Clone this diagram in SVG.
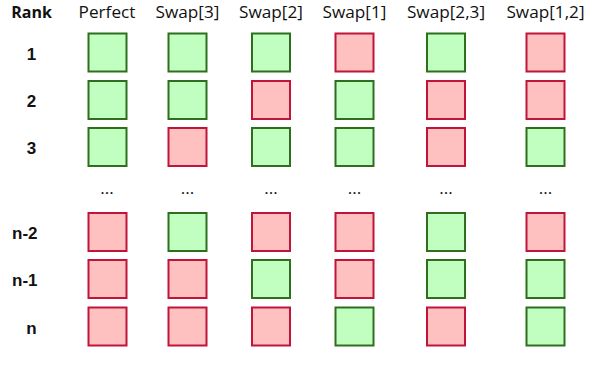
<svg xmlns="http://www.w3.org/2000/svg" width="612" height="380" viewBox="0 0 612 380">
<style>
.hd{font-family:"Open Sans","Liberation Sans",sans-serif;font-size:17.2px;fill:#111;text-anchor:middle}
.rk{font-family:"Open Sans","Liberation Sans",sans-serif;font-size:16px;font-weight:bold;fill:#111;text-anchor:middle}
.rl{font-family:"Liberation Sans",Arial,sans-serif;font-size:17px;font-weight:bold;fill:#111}
.dt{font-family:"Open Sans","Liberation Sans",sans-serif;font-size:17px;fill:#111;text-anchor:middle}
.g{fill:#c0ffc0;stroke:#2f6e1e;stroke-width:2}
.r{fill:#ffc0c0;stroke:#c0143a;stroke-width:2}
</style>
<g id="headers">
<text class="rk" x="31.5" y="18">Rank</text>
<text class="hd" x="107" y="18">Perfect</text>
<text class="hd" x="187.5" y="18">Swap[3]</text>
<text class="hd" x="271" y="18">Swap[2]</text>
<text class="hd" x="354.5" y="18">Swap[1]</text>
<text class="hd" x="446" y="18">Swap[2,3]</text>
<text class="hd" x="545.5" y="18">Swap[1,2]</text>
</g>
<g id="row-labels">
<text class="rl" x="31.5" y="59.5" text-anchor="middle">1</text>
<text class="rl" x="31.5" y="107" text-anchor="middle">2</text>
<text class="rl" x="31.5" y="154" text-anchor="middle">3</text>
<text class="rl" x="12" y="239">n-2</text>
<text class="rl" x="12" y="286">n-1</text>
<text class="rl" x="31.5" y="333.5" text-anchor="middle">n</text>
</g>
<g id="ellipses">
<text class="dt" x="107" y="194">...</text>
<text class="dt" x="187.5" y="194">...</text>
<text class="dt" x="271" y="194">...</text>
<text class="dt" x="354.5" y="194">...</text>
<text class="dt" x="446" y="194">...</text>
<text class="dt" x="545.5" y="194">...</text>
</g>
<g id="col-perfect">
<rect class="g" x="88.5" y="33.5" width="38" height="38"/>
<rect class="g" x="88.5" y="81" width="38" height="38"/>
<rect class="g" x="88.5" y="128" width="38" height="38"/>
<rect class="r" x="88.5" y="213" width="38" height="38"/>
<rect class="r" x="88.5" y="260" width="38" height="38"/>
<rect class="r" x="88.5" y="307.5" width="38" height="38"/>
</g>
<g id="col-swap3">
<rect class="g" x="168.5" y="33.5" width="38" height="38"/>
<rect class="g" x="168.5" y="81" width="38" height="38"/>
<rect class="r" x="168.5" y="128" width="38" height="38"/>
<rect class="g" x="168.5" y="213" width="38" height="38"/>
<rect class="r" x="168.5" y="260" width="38" height="38"/>
<rect class="r" x="168.5" y="307.5" width="38" height="38"/>
</g>
<g id="col-swap2">
<rect class="g" x="252" y="33.5" width="38" height="38"/>
<rect class="r" x="252" y="81" width="38" height="38"/>
<rect class="g" x="252" y="128" width="38" height="38"/>
<rect class="r" x="252" y="213" width="38" height="38"/>
<rect class="g" x="252" y="260" width="38" height="38"/>
<rect class="r" x="252" y="307.5" width="38" height="38"/>
</g>
<g id="col-swap1">
<rect class="r" x="335.5" y="33.5" width="38" height="38"/>
<rect class="g" x="335.5" y="81" width="38" height="38"/>
<rect class="g" x="335.5" y="128" width="38" height="38"/>
<rect class="r" x="335.5" y="213" width="38" height="38"/>
<rect class="r" x="335.5" y="260" width="38" height="38"/>
<rect class="g" x="335.5" y="307.5" width="38" height="38"/>
</g>
<g id="col-swap23">
<rect class="g" x="427" y="33.5" width="38" height="38"/>
<rect class="r" x="427" y="81" width="38" height="38"/>
<rect class="r" x="427" y="128" width="38" height="38"/>
<rect class="g" x="427" y="213" width="38" height="38"/>
<rect class="g" x="427" y="260" width="38" height="38"/>
<rect class="r" x="427" y="307.5" width="38" height="38"/>
</g>
<g id="col-swap12">
<rect class="r" x="526.5" y="33.5" width="38" height="38"/>
<rect class="r" x="526.5" y="81" width="38" height="38"/>
<rect class="g" x="526.5" y="128" width="38" height="38"/>
<rect class="r" x="526.5" y="213" width="38" height="38"/>
<rect class="g" x="526.5" y="260" width="38" height="38"/>
<rect class="g" x="526.5" y="307.5" width="38" height="38"/>
</g>
<g id="connectors"></g>
</svg>
